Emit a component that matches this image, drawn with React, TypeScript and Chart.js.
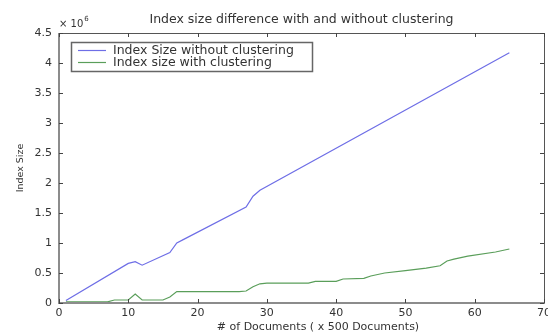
import React, { useEffect, useRef } from "react";
import { Chart, registerables } from "chart.js";

Chart.register(...registerables);

const chartTitle = "Index size difference with and without clustering";
const xAxisTitle = "# of Documents ( x 500 Documents)";
const yAxisTitle = "Index Size";
const seriesNames = ["Index Size without clustering", "Index size with clustering"];
const seriesColors = ["#6e6ee6", "#5a9e5a"];

const withoutX = [1, 10, 11, 12, 16, 17, 18, 27, 28, 29, 65];
const withoutY = [0.04, 0.66, 0.69, 0.63, 0.84, 1.0, 1.06, 1.6, 1.78, 1.88, 4.17];

const withX = [1, 7, 8, 10, 11, 12, 15, 16, 17, 26, 27, 28, 29, 30, 36, 37, 40, 41, 44, 45, 47, 50, 53, 55, 56, 57, 59, 63, 65];
const withY = [0.02, 0.02, 0.05, 0.05, 0.15, 0.05, 0.05, 0.1, 0.19, 0.19, 0.2, 0.27, 0.32, 0.33, 0.33, 0.36, 0.36, 0.4, 0.41, 0.45, 0.5, 0.54, 0.58, 0.62, 0.7, 0.73, 0.78, 0.85, 0.9];

const xTicks = [0, 10, 20, 30, 40, 50, 60, 70];
const yTicks = [0, 0.5, 1, 1.5, 2, 2.5, 3, 3.5, 4, 4.5];
const yExponent = "6";

const FONT = "'DejaVu Sans', sans-serif";

const boxPlugin = {
  id: "matlabBox",
  afterDatasetsDraw(chart: any) {
    const { ctx, chartArea, scales } = chart;
    const { left, right, top, bottom } = chartArea;
    ctx.save();
    // box
    ctx.strokeStyle = "#555";
    ctx.lineWidth = 1;
    ctx.beginPath();
    ctx.moveTo(left, top + 0.5);
    ctx.lineTo(right + 0.5, top + 0.5);
    ctx.lineTo(right + 0.5, bottom);
    ctx.stroke();
    ctx.strokeStyle = "#8c8c8c";
    ctx.lineWidth = 2;
    ctx.beginPath();
    ctx.moveTo(left, top);
    ctx.lineTo(left, bottom);
    ctx.lineTo(right + 1, bottom);
    ctx.stroke();
    // inward ticks
    ctx.strokeStyle = "#444";
    ctx.lineWidth = 1;
    const tl = 4;
    ctx.beginPath();
    xTicks.forEach((v) => {
      const px = Math.round(scales.x.getPixelForValue(v)) + 0.5;
      ctx.moveTo(px, bottom);
      ctx.lineTo(px, bottom - tl);
      ctx.moveTo(px, top);
      ctx.lineTo(px, top + tl);
    });
    yTicks.forEach((v) => {
      const py = Math.round(scales.y.getPixelForValue(v)) + 0.5;
      ctx.moveTo(left, py);
      ctx.lineTo(left + tl, py);
      ctx.moveTo(right, py);
      ctx.lineTo(right - tl, py);
    });
    ctx.stroke();

    // exponent label
    ctx.fillStyle = "#333";
    ctx.textBaseline = "alphabetic";
    ctx.textAlign = "left";
    ctx.font = `10px ${FONT}`;
    ctx.fillText("× 10", left, top - 6);
    const w = ctx.measureText("× 10").width;
    ctx.font = `7px ${FONT}`;
    ctx.fillText(yExponent, left + w + 1, top - 12);

    // x axis title (MATLAB places it slightly right of centre)
    ctx.font = `11px ${FONT}`;
    ctx.textAlign = "center";
    ctx.textBaseline = "middle";
    ctx.fillText(xAxisTitle, 318, 327);

    // legend
    const lx = 71.5, ly = 42.5, lw = 241, lh = 29;
    ctx.fillStyle = "#fff";
    ctx.fillRect(lx, ly, lw, lh);
    ctx.strokeStyle = "#666";
    ctx.lineWidth = 1.5;
    ctx.strokeRect(lx, ly, lw, lh);
    ctx.font = `12.5px ${FONT}`;
    ctx.textAlign = "left";
    ctx.textBaseline = "middle";
    chart.data.datasets.forEach((ds: any, i: number) => {
      const cy = 50.5 + i * 12;
      ctx.strokeStyle = ds.borderColor;
      ctx.lineWidth = 1.2;
      ctx.beginPath();
      ctx.moveTo(78, cy);
      ctx.lineTo(106, cy);
      ctx.stroke();
      ctx.fillStyle = "#333";
      ctx.fillText(ds.label, 113, cy);
    });
    ctx.restore();
  },
};

export default function App() {
  const ref = useRef<HTMLCanvasElement>(null);
  useEffect(() => {
    if (!ref.current) return;
    const chart = new Chart(ref.current, {
      type: "line",
      data: {
        datasets: [
          {
            label: seriesNames[0],
            data: withoutX.map((x, i) => ({ x, y: withoutY[i] })),
            borderColor: seriesColors[0],
            borderWidth: 1.2,
            pointRadius: 0,
            tension: 0,
          },
          {
            label: seriesNames[1],
            data: withX.map((x, i) => ({ x, y: withY[i] })),
            borderColor: seriesColors[1],
            borderWidth: 1.2,
            pointRadius: 0,
            tension: 0,
          },
        ],
      },
      options: {
        responsive: false,
        animation: false,
        layout: { padding: { left: 0, right: 4, top: 0, bottom: 0 } },
        plugins: {
          legend: { display: false },
          tooltip: { enabled: false },
          title: {
            display: true,
            text: chartTitle,
            fullSize: false,
            color: "#333",
            font: { family: FONT, size: 12.5, weight: "normal" },
            padding: { top: 12, bottom: 6 },
          },
        },
        scales: {
          x: {
            type: "linear",
            min: 0,
            max: 70,
            grid: { display: false, drawTicks: false, tickLength: 0 },
            border: { display: false },
            afterBuildTicks: (s: any) => {
              s.ticks = xTicks.map((v) => ({ value: v }));
            },
            afterFit: (s: any) => {
              s.height = 30;
              s.paddingLeft = 0;
              s.paddingRight = 0;
            },
            ticks: {
              color: "#333",
              font: { family: FONT, size: 11 },
              padding: 4,
              maxRotation: 0,
              autoSkip: false,
              callback: (v: any) => String(v),
            },
            title: { display: false },
          },
          y: {
            type: "linear",
            min: 0,
            max: 4.5,
            grid: { display: false, drawTicks: false, tickLength: 0 },
            border: { display: false },
            afterBuildTicks: (s: any) => {
              s.ticks = yTicks.map((v) => ({ value: v }));
            },
            afterFit: (s: any) => {
              s.width = 59;
              s.paddingTop = 0;
              s.paddingBottom = 0;
            },
            ticks: {
              color: "#333",
              font: { family: FONT, size: 11 },
              padding: 7,
              autoSkip: false,
              callback: (v: any) => String(v),
            },
            title: {
              display: true,
              text: yAxisTitle,
              color: "#333",
              font: { family: FONT, size: 9.5 },
              padding: { top: 15, bottom: 0 },
            },
          },
        },
      },
      plugins: [boxPlugin],
    });
    return () => chart.destroy();
  }, []);
  return (
    <canvas
      ref={ref}
      width={548}
      height={333}
      style={{ position: "absolute", left: 0, top: 0, background: "#fff" }}
    />
  );
}
